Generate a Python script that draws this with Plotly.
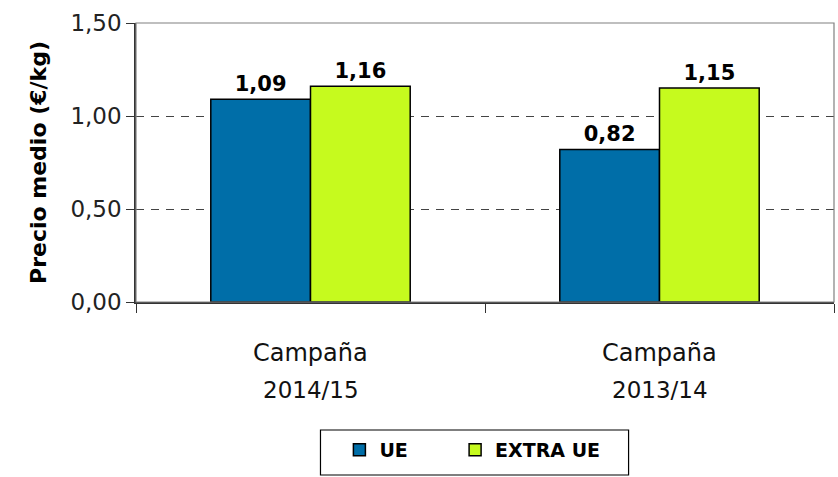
import plotly.graph_objects as go

categories = ["2014/15", "2013/14"]
cat_prefix = "Campaña"
ue = [1.09, 0.82]
extra_ue = [1.16, 1.15]
series_names = ["UE", "EXTRA UE"]
colors = ["#006EA8", "#C6FA1E"]

FONT = "DejaVu Sans"
NB = "\u00a0"

fig = go.Figure()
for i, (name, vals, col) in enumerate(zip(series_names, [ue, extra_ue], colors)):
    pad = NB * 7 if i == 0 else ""
    fig.add_trace(go.Bar(
        x=categories, y=vals, name="<b>" + name + "</b>" + pad,
        marker=dict(color=col, line=dict(color="black", width=1.5)),
        texttemplate="<b>%{y:.2f}</b>", textposition="outside",
        textfont=dict(family=FONT, size=21, color="black"),
        cliponaxis=False,
    ))

annotations = []
for c in categories:
    annotations.append(dict(x=c, xref="x", y=-0.183, yref="paper", yanchor="middle",
                            text=cat_prefix, showarrow=False,
                            font=dict(family=FONT, size=24, color="#111")))
    annotations.append(dict(x=c, xref="x", y=-0.315, yref="paper", yanchor="middle",
                            text=c, showarrow=False,
                            font=dict(family=FONT, size=23, color="#111")))

fig.update_layout(
    width=838, height=477,
    margin=dict(l=136, r=4, t=23, b=175),
    paper_bgcolor="white", plot_bgcolor="white",
    separators=",.",
    barmode="group", bargap=0.4286, bargroupgap=0,
    font=dict(family=FONT, color="black"),
    showlegend=True,
    legend=dict(orientation="h", x=0.2914, xanchor="left", y=-0.462, yanchor="top",
                borderwidth=0, bgcolor="rgba(0,0,0,0)",
                font=dict(family=FONT, size=19, color="black"),
                itemwidth=30, traceorder="normal"),
    annotations=annotations,
    shapes=[dict(type="rect", xref="paper", yref="paper", x0=0, x1=1, y0=0, y1=1,
                 line=dict(color="#808080", width=1.2), layer="above"),
            dict(type="rect", xref="paper", yref="paper", x0=0.2643, x1=0.7057,
                 y0=-0.62, y1=-0.4588, line=dict(color="black", width=1.2))],
    xaxis=dict(showticklabels=False, ticks="outside", tickson="boundaries", ticklen=9,
               tickcolor="#333", showline=True, linecolor="#333", linewidth=1.5,
               showgrid=False),
    yaxis=dict(range=[0, 1.5], dtick=0.5, tickformat=".2f", ticks="outside", ticklen=8,
               tickcolor="#333", showline=True, linecolor="#333", linewidth=1.5,
               showgrid=True, gridcolor="#444", griddash="8px,7px", gridwidth=1,
               zeroline=False,
               tickfont=dict(family=FONT, size=23, color="#222"),
               title=dict(text="<b>Precio medio (€/kg)</b>", font=dict(family=FONT, size=22),
                          standoff=18)),
)

fig.write_html("out.html")
